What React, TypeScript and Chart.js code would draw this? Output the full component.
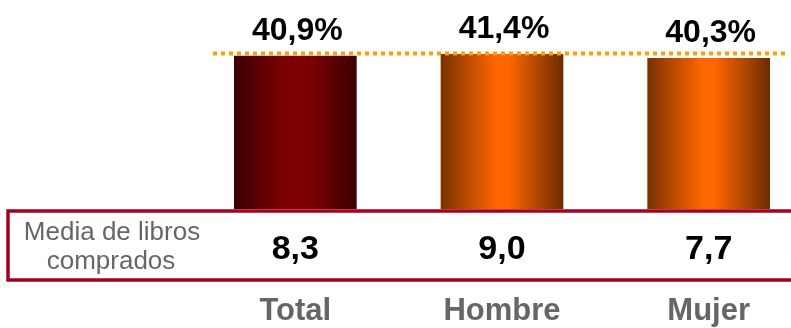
import React, { useEffect, useRef } from 'react';
import { Chart, registerables } from 'chart.js';

Chart.register(...registerables);

const categories = ['Total', 'Hombre', 'Mujer'];
const percentValues = [40.9, 41.4, 40.3];
const percentLabels = ['40,9%', '41,4%', '40,3%'];
const mediaLibros = ['8,3', '9,0', '7,7'];
const rowLabelLines = ['Media de libros', 'comprados'];
const referenceLineValue = 41.6;

const FONT = '"Liberation Sans", Arial, sans-serif';
const BAR_W = 122;
const CANVAS_W = 812;
const CANVAS_H = 328;

const darkStops: [number, string][] = [
  [0, '#3a0000'],
  [0.38, '#780000'],
  [0.5, '#800000'],
  [0.64, '#780000'],
  [1, '#3a0000'],
];
const orangeStops: [number, string][] = [
  [0, '#793100'],
  [0.45, '#ff6600'],
  [0.55, '#ff6600'],
  [1, '#6c2c00'],
];
const barStops = [darkStops, orangeStops, orangeStops];

const overlayPlugin = {
  id: 'overlay',
  afterDatasetsDraw(chart: any) {
    const ctx = chart.ctx;
    const ys = chart.scales.y;
    const meta = chart.getDatasetMeta(0);
    ctx.save();

    // dotted reference line
    const ly = ys.getPixelForValue(referenceLineValue);
    ctx.strokeStyle = '#ff9f00';
    ctx.lineWidth = 4;
    ctx.setLineDash([4, 4]);
    ctx.beginPath();
    ctx.moveTo(213, ly);
    ctx.lineTo(786, ly);
    ctx.stroke();
    ctx.setLineDash([]);

    // percent labels
    ctx.fillStyle = '#000';
    ctx.font = `bold 32px ${FONT}`;
    ctx.textAlign = 'center';
    ctx.textBaseline = 'alphabetic';
    meta.data.forEach((el: any, i: number) => {
      ctx.fillText(percentLabels[i], el.x + 2, el.y - 16);
    });

    // box
    ctx.strokeStyle = '#a50021';
    ctx.lineWidth = 3.5;
    ctx.strokeRect(8, 211, 900, 69);

    // row label
    ctx.fillStyle = '#666666';
    ctx.font = `26px ${FONT}`;
    ctx.fillText(rowLabelLines[0], 112, 240);
    ctx.fillText(rowLabelLines[1], 111, 269);

    // values
    ctx.fillStyle = '#000';
    ctx.font = `bold 34px ${FONT}`;
    meta.data.forEach((el: any, i: number) => {
      ctx.fillText(mediaLibros[i], el.x, 259);
    });
    ctx.restore();
  },
};

export default function App() {
  const ref = useRef<HTMLCanvasElement>(null);
  useEffect(() => {
    if (!ref.current) return;
    const chart = new Chart(ref.current, {
      type: 'bar',
      data: {
        labels: categories,
        datasets: [
          {
            data: percentValues,
            barThickness: BAR_W,
            borderWidth: 0,
            backgroundColor: (c: any) => {
              const ch = c.chart;
              const xs = ch.scales && ch.scales.x;
              if (!xs || c.dataIndex == null || !barStops[c.dataIndex]) return '#800000';
              const cx = xs.getPixelForValue(c.dataIndex);
              if (!isFinite(cx)) return '#800000';
              const g = ch.ctx.createLinearGradient(cx - BAR_W / 2, 0, cx + BAR_W / 2, 0);
              for (const [o, col] of barStops[c.dataIndex]) g.addColorStop(o, col);
              return g;
            },
          },
        ],
      },
      options: {
        animation: false,
        responsive: false,
        maintainAspectRatio: false,
        devicePixelRatio: 1,
        layout: { padding: { left: 192, right: 0, top: 0, bottom: 0 } },
        plugins: { legend: { display: false }, tooltip: { enabled: false } },
        scales: {
          y: { display: false, min: 0, max: 55.9 },
          x: {
            grid: { display: false, drawTicks: false },
            border: { display: false },
            ticks: {
              color: '#666666',
              padding: 84,
              font: { family: FONT, size: 31, weight: 'bold' },
            },
            afterFit: (scale: any) => {
              scale.height = 119;
              scale.paddingLeft = 0;
              scale.paddingRight = 0;
            },
          },
        },
      },
      plugins: [overlayPlugin],
    });
    return () => chart.destroy();
  }, []);
  return (
    <div style={{ position: 'absolute', left: 0, top: 0, width: 791, height: CANVAS_H, overflow: 'hidden', background: '#fff' }}>
      <div style={{ position: 'relative', width: CANVAS_W, height: CANVAS_H }}>
        <canvas
          ref={ref}
          width={CANVAS_W}
          height={CANVAS_H}
          style={{ display: 'block', width: CANVAS_W, height: CANVAS_H }}
        />
      </div>
    </div>
  );
}
